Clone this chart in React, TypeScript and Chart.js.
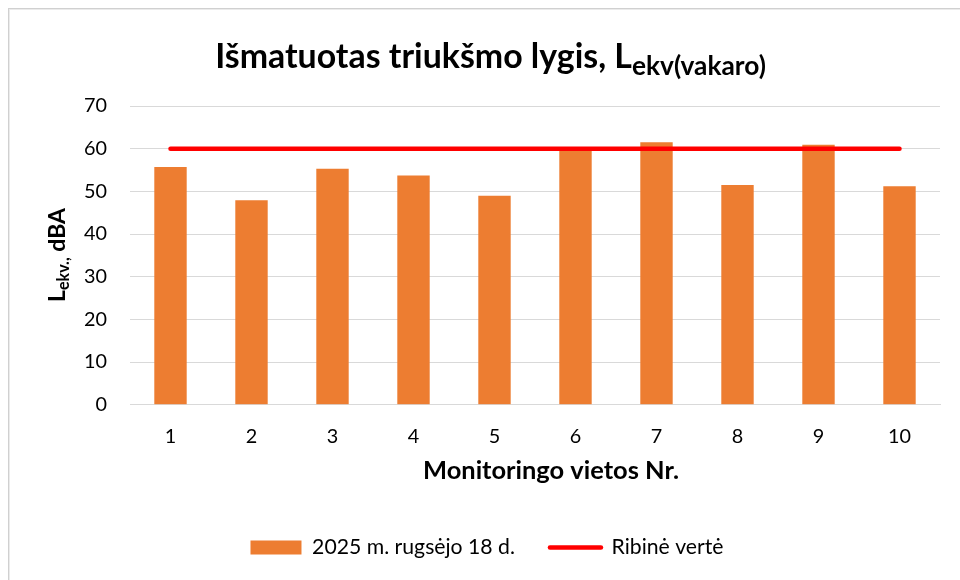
import React, { useEffect, useRef } from 'react';
import { Chart, registerables } from 'chart.js';

Chart.register(...registerables);

const categories = ['1', '2', '3', '4', '5', '6', '7', '8', '9', '10'];
const measuredLevels = [55.7, 47.9, 55.3, 53.7, 49.0, 60.2, 61.5, 51.5, 60.9, 51.2];
const limitLine = [60, 60, 60, 60, 60, 60, 60, 60, 60, 60];
const seriesLabels = ['2025 m. rugsėjo 18 d.', 'Ribinė vertė'];
const yMin = 0;
const yMax = 70;
const yStep = 10;

const titleMain = 'Išmatuotas triukšmo lygis, L';
const titleSub = 'ekv(vakaro)';
const yTitleMain = 'L';
const yTitleSub = 'ekv.,';
const yTitleRest = ' dBA';
const xTitle = 'Monitoringo vietos Nr.';

const FONT = 'Lato';
const ORANGE = '#ED7D31';
const RED = '#FF0000';
const GRID = '#D9D9D9';

function measure(text: string, weight: string, size: number): number {
  const c = document.createElement('canvas').getContext('2d')!;
  c.font = `${weight} ${size}px ${FONT}`;
  return c.measureText(text).width;
}
function fitSize(text: string, weight: string, target: number): number {
  return (100 * target) / measure(text, weight, 100);
}

const textPlugin = {
  id: 'customTexts',
  afterLayout(chart: any) {
    const lg = chart.legend;
    if (lg) {
      lg.left += 17;
      lg.right += 17;
    }
  },
  afterDraw(chart: any) {
    const ctx: CanvasRenderingContext2D = chart.ctx;
    ctx.save();
    ctx.fillStyle = '#000';
    ctx.textBaseline = 'alphabetic';
    ctx.textAlign = 'left';

    // Title
    const tMain = fitSize(titleMain, 'bold', 417);
    const tSub = fitSize(titleSub, 'bold', 134);
    const wMain = measure(titleMain, 'bold', tMain);
    const wSub = measure(titleSub, 'bold', tSub);
    const tx0 = 490.5 - (wMain + wSub) / 2;
    ctx.font = `bold ${tMain}px ${FONT}`;
    ctx.fillText(titleMain, tx0, 68);
    ctx.font = `bold ${tSub}px ${FONT}`;
    ctx.fillText(titleSub, tx0 + wMain, 75);

    // X axis title
    const xs = fitSize(xTitle, 'bold', 256);
    ctx.font = `bold ${xs}px ${FONT}`;
    ctx.textAlign = 'center';
    ctx.fillText(xTitle, 551, 479);

    // Y axis title (rotated)
    const base =
      measure(yTitleMain, 'bold', 100) +
      measure(yTitleSub, 'bold', 70) +
      measure(yTitleRest, 'bold', 100);
    const s = (100 * 94) / base;
    const ss = s * 0.7;
    const w1 = measure(yTitleMain, 'bold', s);
    const w2 = measure(yTitleSub, 'bold', ss);
    const w3 = measure(yTitleRest, 'bold', s);
    const total = w1 + w2 + w3;
    ctx.translate(65, 255);
    ctx.rotate(-Math.PI / 2);
    ctx.textAlign = 'left';
    let x = -total / 2;
    ctx.font = `bold ${s}px ${FONT}`;
    ctx.fillText(yTitleMain, x, 0);
    x += w1;
    ctx.font = `bold ${ss}px ${FONT}`;
    ctx.fillText(yTitleSub, x, 4);
    x += w2;
    ctx.font = `bold ${s}px ${FONT}`;
    ctx.fillText(yTitleRest, x, 0);
    ctx.restore();
  },
};

export default function App() {
  const canvasRef = useRef<HTMLCanvasElement | null>(null);

  useEffect(() => {
    const canvas = canvasRef.current;
    if (!canvas) return;
    const tickSize = fitSize('70', 'normal', 23);
    const legendSize = fitSize(seriesLabels[0], 'normal', 203);

    const chart = new Chart(canvas, {
      type: 'bar',
      data: {
        labels: categories,
        datasets: [
          {
            type: 'bar',
            label: seriesLabels[0],
            data: measuredLevels,
            backgroundColor: ORANGE,
            borderWidth: 0,
            barPercentage: 0.4,
            categoryPercentage: 1,
            order: 1,
          },
          {
            type: 'line',
            label: seriesLabels[1],
            data: limitLine,
            borderColor: RED,
            backgroundColor: RED,
            borderWidth: 4.5,
            borderCapStyle: 'round',
            pointRadius: 0,
            pointHoverRadius: 0,
            fill: false,
            order: 0,
          },
        ],
      } as any,
      options: {
        responsive: false,
        animation: false,
        devicePixelRatio: 1,
        layout: { padding: { left: 0, right: 20, top: 106, bottom: 12 } },
        plugins: {
          title: { display: false },
          tooltip: { enabled: false },
          legend: {
            display: true,
            position: 'bottom',
            labels: {
              usePointStyle: true,
              pointStyleWidth: 51,
              boxHeight: 14,
              padding: 35,
              color: '#000',
              font: { family: FONT, size: legendSize },
              sort: (a: any, b: any) => a.datasetIndex - b.datasetIndex,
              generateLabels: (ch: any) => {
                const items = Chart.defaults.plugins.legend.labels.generateLabels(ch);
                return items.map((it: any) => ({
                  ...it,
                  pointStyle: it.datasetIndex === 0 ? 'rect' : 'line',
                  lineWidth: it.datasetIndex === 0 ? 0 : 4.5,
                  lineCap: 'round',
                  strokeStyle: it.datasetIndex === 0 ? ORANGE : RED,
                  fillStyle: it.datasetIndex === 0 ? ORANGE : RED,
                }));
              },
            },
          },
        },
        scales: {
          x: {
            type: 'category',
            offset: true,
            grid: { display: false, drawTicks: false },
            border: { display: true, color: GRID, width: 1 },
            ticks: {
              color: '#000',
              padding: 20,
              font: { family: FONT, size: tickSize },
            },
            afterFit: (scale: any) => {
              scale.height = 97;
            },
          },
          y: {
            min: yMin,
            max: yMax,
            ticks: {
              stepSize: yStep,
              color: '#000',
              padding: 23,
              font: { family: FONT, size: tickSize },
            },
            grid: { color: GRID, lineWidth: 1, drawTicks: false },
            border: { display: false },
            afterFit: (scale: any) => {
              scale.width = 130;
            },
          },
        },
      } as any,
      plugins: [textPlugin],
    });

    return () => {
      chart.destroy();
    };
  }, []);

  return (
    <div
      style={{
        position: 'fixed',
        left: 0,
        top: 0,
        width: 960,
        height: 580,
        overflow: 'hidden',
        background: '#fff',
      }}
    >
      <div
        style={{
          position: 'absolute',
          left: 8,
          top: 8,
          width: 1000,
          height: 700,
          border: '1px solid #d0d0d0',
          boxShadow: 'inset 1px 1px 0 #ebebeb',
        }}
      />
      <canvas
        ref={canvasRef}
        width={960}
        height={580}
        style={{ position: 'absolute', left: 0, top: 0, width: 960, height: 580 }}
      />
    </div>
  );
}
